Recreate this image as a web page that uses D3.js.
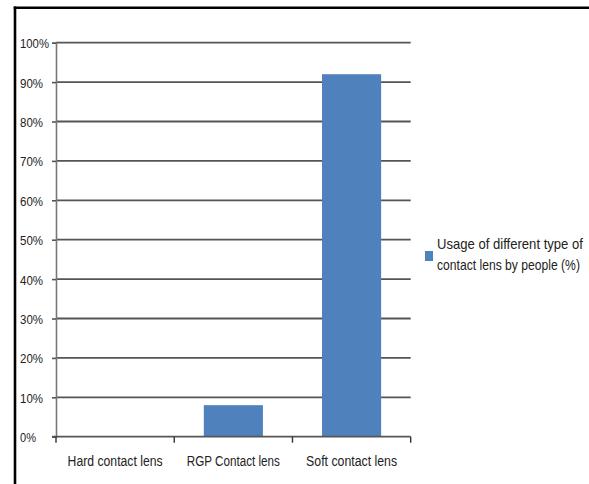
<!DOCTYPE html>
<html>
<head>
<meta charset="utf-8">
<script src="https://cdn.jsdelivr.net/npm/d3@7"></script>
<style>
  html, body { margin: 0; padding: 0; background: #fff; }
  svg { display: block; }
  text { font-family: "Liberation Sans", Arial, sans-serif; fill: #222; }
</style>
</head>
<body>
<svg id="chart" width="589" height="484"></svg>
<script>
// Chart data
const categories = ["Hard contact lens", "RGP Contact lens", "Soft contact lens"];
const usageValues = [0, 8, 92];
const yTicks = [0, 10, 20, 30, 40, 50, 60, 70, 80, 90, 100];
const seriesName = ["Usage of different type of", "contact lens by people (%)"];

// Narrow label widths (condensed face look)
const categoryWidths = [95, 93, 91];
const legendWidths = [146, 143];

const svg = d3.select("#chart");

// Outer frame (left and top edges)
svg.append("line").attr("x1", 15).attr("x2", 15).attr("y1", 6.5).attr("y2", 484)
  .attr("stroke", "#000").attr("stroke-width", 2.6);
svg.append("line").attr("x1", 13.7).attr("x2", 589).attr("y1", 7.7).attr("y2", 7.7)
  .attr("stroke", "#000").attr("stroke-width", 2.6);

const plot = { left: 56, right: 410.7, top: 42.7, bottom: 436.7 };

const x = d3.scaleBand().domain(categories).range([plot.left, plot.right])
  .paddingInner(0.5).paddingOuter(0.25);
const xBound = d3.scaleLinear().domain([0, categories.length]).range([plot.left, plot.right]);
const y = d3.scaleLinear().domain([0, 100]).range([plot.bottom, plot.top]);

// Gridlines
svg.append("g").selectAll("line").data(yTicks.slice(1)).join("line")
  .attr("x1", plot.left).attr("x2", plot.right)
  .attr("y1", d => y(d)).attr("y2", d => y(d))
  .attr("stroke", "#555").attr("stroke-width", 1.8);

// Bars
svg.append("g").selectAll("rect").data(usageValues).join("rect")
  .attr("x", (d, i) => x(categories[i]))
  .attr("width", x.bandwidth())
  .attr("y", d => y(d))
  .attr("height", d => y(0) - y(d))
  .attr("fill", "#4f81bd");

// Y axis
const yAxis = d3.axisLeft(y).tickValues(yTicks).tickFormat(d => d + "%").tickSize(4);
const gy = svg.append("g").attr("transform", `translate(${plot.left},0)`).call(yAxis);
gy.select(".domain").attr("stroke", "#777").attr("stroke-width", 1.6);
gy.selectAll(".tick line").attr("stroke", "#555").attr("stroke-width", 1.6);
gy.selectAll(".tick text")
  .attr("font-family", "'Liberation Sans', Arial, sans-serif")
  .attr("font-size", 13).attr("fill", "#222")
  .attr("text-anchor", "start")
  .attr("x", 20 - plot.left)
  .attr("dy", null).attr("y", 5)
  .attr("textLength", d => d === 100 ? 29 : d === 0 ? 16 : 23)
  .attr("lengthAdjust", "spacingAndGlyphs");

// X axis baseline with category boundary ticks
const gx = svg.append("g");
gx.append("line").attr("x1", plot.left - 4).attr("x2", plot.right)
  .attr("y1", plot.bottom).attr("y2", plot.bottom)
  .attr("stroke", "#555").attr("stroke-width", 1.8);
gx.selectAll("line.tick").data(d3.range(categories.length + 1)).join("line")
  .attr("class", "tick")
  .attr("x1", d => xBound(d)).attr("x2", d => xBound(d))
  .attr("y1", plot.bottom).attr("y2", plot.bottom + 6)
  .attr("stroke", "#333").attr("stroke-width", 1.4);
gx.selectAll("text").data(categories).join("text")
  .attr("x", d => x(d) + x.bandwidth() / 2)
  .attr("y", 466)
  .attr("text-anchor", "middle")
  .attr("font-size", 14)
  .attr("textLength", (d, i) => categoryWidths[i])
  .attr("lengthAdjust", "spacingAndGlyphs")
  .text(d => d);

// Legend: swatch plus two lines, squeezed horizontally to a narrow face
const lg = svg.append("g");
lg.append("rect").attr("x", 425).attr("y", 251).attr("width", 8).attr("height", 10).attr("fill", "#4f81bd");
lg.selectAll("text").data(seriesName).join("text")
  .attr("x", 0).attr("y", 0)
  .attr("font-size", 14)
  .text(d => d)
  .attr("transform", function (d, i) {
    const natural = this.getComputedTextLength();
    const sx = legendWidths[i] / natural;
    return `translate(437,${249 + i * 21}) scale(${sx},1)`;
  });
</script>
</body>
</html>
